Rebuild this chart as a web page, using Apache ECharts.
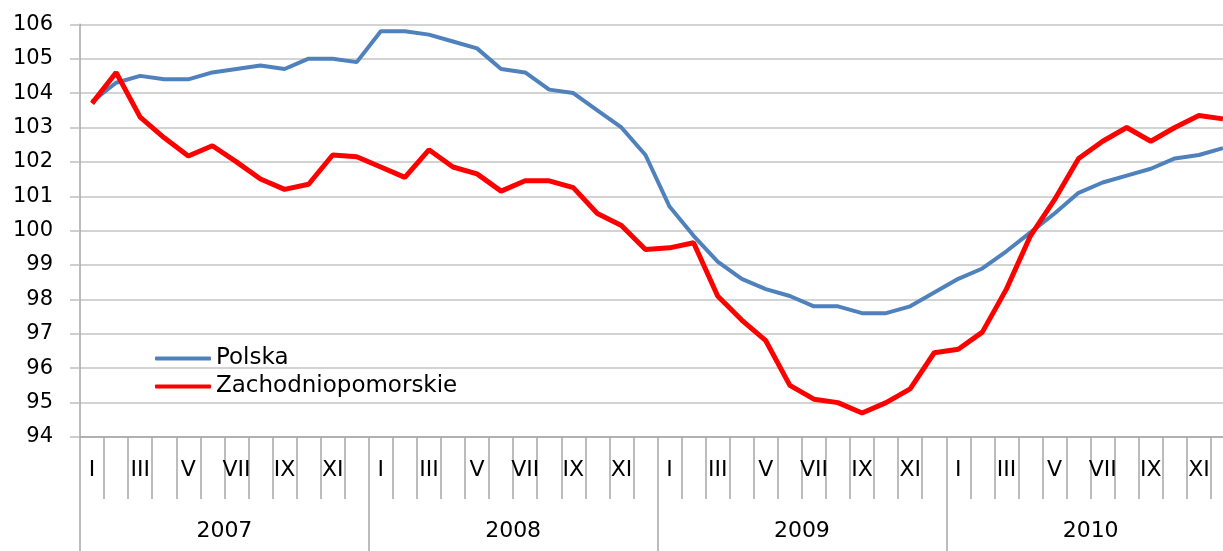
<!DOCTYPE html>
<html>
<head>
<meta charset="utf-8">
<script src="https://cdn.jsdelivr.net/npm/echarts@6/dist/echarts.min.js"></script>
<style>
  html, body { margin: 0; padding: 0; overflow: hidden; background: #fff; }
  #chart { width: 1235px; height: 551px; }
</style>
</head>
<body>
<div id="chart"></div>
<script>
var years = ['2007', '2008', '2009', '2010'];
var monthLabels = ['I', '', 'III', '', 'V', '', 'VII', '', 'IX', '', 'XI', ''];

var polska = [
  103.75, 104.3, 104.5, 104.4, 104.4, 104.6, 104.7, 104.8, 104.7, 105.0, 105.0, 104.9,
  105.8, 105.8, 105.7, 105.5, 105.3, 104.7, 104.6, 104.1, 104.0, 103.5, 103.0, 102.2,
  100.7, 99.85, 99.1, 98.6, 98.3, 98.1, 97.8, 97.8, 97.6, 97.6, 97.8, 98.2,
  98.6, 98.9, 99.4, 99.95, 100.5, 101.1, 101.4, 101.6, 101.8, 102.1, 102.2, 102.4
];
var zachodniopomorskie = [
  103.7, 104.6, 103.3, 102.7, 102.17, 102.47, 102.0, 101.5, 101.2, 101.35, 102.2, 102.15,
  101.85, 101.55, 102.35, 101.85, 101.65, 101.15, 101.45, 101.45, 101.25, 100.5, 100.15, 99.45,
  99.5, 99.65, 98.1, 97.4, 96.8, 95.5, 95.1, 95.0, 94.7, 95.0, 95.4, 96.45,
  96.55, 97.05, 98.3, 99.85, 100.9, 102.1, 102.6, 103.0, 102.6, 103.0, 103.35, 103.25
];

var months = [];
years.forEach(function (y) {
  monthLabels.forEach(function (m, i) {
    months.push(y + '-' + (i + 1));
  });
});

var font = 'DejaVu Sans';
var option = {
  animation: false,
  backgroundColor: '#fff',
  grid: { left: 80, right: 0, top: 24.3, bottom: 114 },
  legend: {
    orient: 'vertical',
    left: 155,
    top: 347,
    padding: 0,
    itemWidth: 56,
    itemHeight: 4,
    itemGap: 5,
    icon: 'roundRect',
    textStyle: { fontFamily: font, fontSize: 23, color: '#000' },
    data: ['Polska', 'Zachodniopomorskie']
  },
  xAxis: [{
    type: 'category',
    data: months,
    boundaryGap: true,
    position: 'bottom',
    offset: 0,
    axisLine: { lineStyle: { color: '#a6a6a6', width: 1.5 } },
    axisTick: { show: true, interval: 0, length: 62, lineStyle: { color: '#a6a6a6', width: 1.5 } },
    axisLabel: {
      interval: 0,
      margin: 22,
      fontFamily: font,
      fontSize: 22,
      color: '#000',
      formatter: function (v, i) { return monthLabels[i % 12]; }
    }
  }, {
    type: 'category',
    data: years,
    boundaryGap: true,
    position: 'bottom',
    offset: 0,
    axisLine: { show: false },
    axisTick: { show: true, interval: 0, length: 114, lineStyle: { color: '#a6a6a6', width: 1.5 } },
    axisLabel: { interval: 0, margin: 83, fontFamily: font, fontSize: 22, color: '#000' }
  }],
  yAxis: {
    type: 'value',
    min: 94,
    max: 106,
    interval: 1,
    axisLine: { show: true, lineStyle: { color: '#a6a6a6', width: 1.5 } },
    axisTick: { show: true, length: 10, lineStyle: { color: '#bfbfbf', width: 1.5 } },
    splitLine: { lineStyle: { color: '#c4c4c4', width: 1.5 } },
    axisLabel: { margin: 27, fontFamily: font, fontSize: 21, color: '#000' }
  },
  series: [{
    name: 'Polska',
    type: 'line',
    xAxisIndex: 0,
    data: polska,
    symbol: 'none',
    color: '#4f81bd',
    lineStyle: { color: '#4f81bd', width: 4 }
  }, {
    name: 'Zachodniopomorskie',
    type: 'line',
    xAxisIndex: 0,
    data: zachodniopomorskie,
    symbol: 'none',
    color: '#ff0000',
    lineStyle: { color: '#ff0000', width: 5 }
  }]
};

var chart = echarts.init(document.getElementById('chart'));
chart.setOption(option);
</script>
</body>
</html>
